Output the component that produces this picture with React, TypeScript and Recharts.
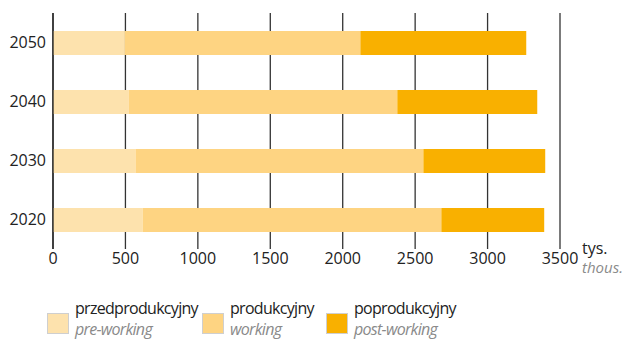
import { BarChart, Bar, XAxis, YAxis, CartesianGrid } from 'recharts';

const years = ['2050', '2040', '2030', '2020'];
const preWorking = [494, 522, 570, 619];
const working = [1628, 1855, 1987, 2062];
const postWorking = [1145, 966, 841, 710];
const xTicks = [0, 500, 1000, 1500, 2000, 2500, 3000, 3500];

const COLORS = {
  pre: '#fde2ad',
  work: '#fed482',
  post: '#f9b000',
};

const data = years.map((year, i) => ({
  year,
  pre: preWorking[i],
  work: working[i],
  post: postWorking[i],
}));

const FONT = '"Open Sans", "Noto Sans", sans-serif';

const legendItems = [
  { color: COLORS.pre, pl: 'przedprodukcyjny', en: 'pre-working', left: 47, textLeft: 75 },
  { color: COLORS.work, pl: 'produkcyjny', en: 'working', left: 202, textLeft: 230 },
  { color: COLORS.post, pl: 'poprodukcyjny', en: 'post-working', left: 326, textLeft: 354 },
];

export default function App() {
  return (
    <div style={{ position: 'absolute', left: 0, top: 0, width: 629, height: 341, background: '#fff', fontFamily: FONT }}>
      <BarChart
        width={629}
        height={341}
        data={data}
        layout="vertical"
        margin={{ top: 13, right: 69, bottom: 62, left: 0 }}
        barSize={24}
      >
        <CartesianGrid horizontal={false} vertical stroke="#333" strokeWidth={1.3} />
        <XAxis
          type="number"
          domain={[0, 3500]}
          ticks={xTicks}
          axisLine={false}
          tickLine={false}
          tickSize={4}
          tickMargin={0}
          height={30}
          tick={{ fill: '#222', fontSize: 16, fontFamily: FONT }}
        />
        <YAxis
          type="category"
          dataKey="year"
          width={53}
          axisLine={{ stroke: '#222', strokeWidth: 1.3 }}
          tickLine={false}
          tickSize={0}
          tickMargin={7}
          tick={{ fill: '#222', fontSize: 16, fontFamily: FONT }}
        />
        <Bar dataKey="pre" stackId="a" fill={COLORS.pre} isAnimationActive={false} />
        <Bar dataKey="work" stackId="a" fill={COLORS.work} isAnimationActive={false} />
        <Bar dataKey="post" stackId="a" fill={COLORS.post} isAnimationActive={false} />
      </BarChart>

      <div style={{ position: 'absolute', left: 582, top: 239, fontSize: 16, color: '#222', lineHeight: '19px' }}>
        tys.
        <div style={{ fontStyle: 'italic', color: '#8a8a8a', fontSize: 15 }}>thous.</div>
      </div>

      {legendItems.map((item) => (
        <div key={item.pl}>
          <div
            style={{
              position: 'absolute',
              left: item.left,
              top: 313,
              width: 20,
              height: 19,
              background: item.color,
              border: '1px solid #cfcfcf',
            }}
          />
          <div
            style={{
              position: 'absolute',
              left: item.textLeft,
              top: 298,
              lineHeight: '21px',
              whiteSpace: 'nowrap',
              fontSize: 16,
              letterSpacing: -0.7,
            }}
          >
            <div style={{ color: '#222' }}>{item.pl}</div>
            <div style={{ color: '#8a8a8a', fontStyle: 'italic' }}>{item.en}</div>
          </div>
        </div>
      ))}
    </div>
  );
}
